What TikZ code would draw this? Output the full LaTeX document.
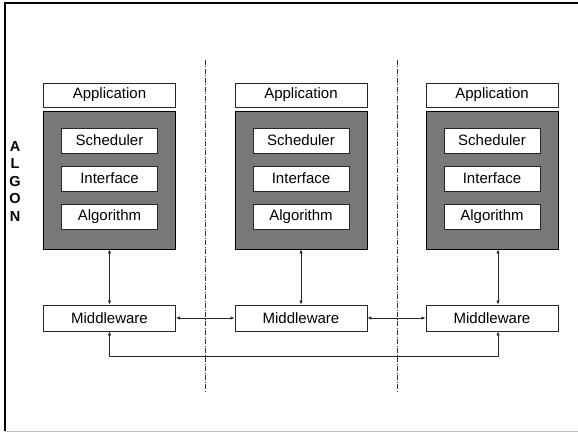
\documentclass[tikz,border=0pt]{standalone}
\usepackage{fontspec}
\setmainfont{Liberation Sans}
\usetikzlibrary{arrows.meta,calc}
\begin{document}
\begin{tikzpicture}[x=1pt,y=1pt,
  box/.style={draw=black!85,line width=0.9pt,fill=white,minimum width=132pt,minimum height=24pt,inner sep=0pt,font=\fontsize{15}{17}\selectfont},
  inbox/.style={box,minimum width=96pt,minimum height=25pt},
  graybox/.style={draw=black,line width=0.9pt,fill=black!53,minimum width=132pt,minimum height=138pt,inner sep=0pt},
  conn/.style={line width=0.6pt,draw=black!85,{Latex[length=4pt,width=3.4pt]}-{Latex[length=4pt,width=3.4pt]}},
  sep/.style={line width=0.6pt,draw=black!80,dash pattern=on 5pt off 1.5pt on 1pt off 1.5pt},
  letter/.style={font=\bfseries\fontsize{14.5}{16}\selectfont,inner sep=0pt}]
\useasboundingbox (0,0) rectangle (578,432);
% frame
\draw[line width=1.3pt] (5,1) -- (5,429) -- (578,429);
\draw[line width=1pt,black!25] (5,0.8) -- (578,0.8);
% separators
\coordinate (s1t) at (205,372); \coordinate (s1b) at (205,41);
\coordinate (s2t) at (397,372); \coordinate (s2b) at (397,41);
\draw[sep] (s1t) -- (s1b);
\draw[sep] (s2t) -- (s2b);
% ALGON
\node[letter] (lA) at (15,285.5) {A};
\node[letter] (lL) at (15,268) {L};
\node[letter] (lG) at (15,250.5) {G};
\node[letter] (lO) at (15,233) {O};
\node[letter] (lN) at (15,215.5) {N};
% columns
\foreach \i/\x in {1/109.5,2/301,3/492}{
  \node[box] (app\i) at (\x,337) {Application};
  \node[graybox] (g\i) at (\x,252) {};
  \node[inbox] (sch\i) at (\x,291.5) {Scheduler};
  \node[inbox] (int\i) at (\x,253.5) {Interface};
  \node[inbox] (alg\i) at (\x,215.5) {Algorithm};
  \node[box,minimum height=26pt] (mw\i) at (\x,114) {Middleware};
}
% vertical connectors
\draw[conn] (g1.south) -- (mw1.north);
\draw[conn] (g2.south) -- (mw2.north);
\draw[conn] ($(g3.south)+(6,0)$) -- ($(mw3.north)+(6,0)$);
% horizontal connectors
\draw[conn] (mw1.east) -- (mw2.west);
\draw[conn] (mw2.east) -- (mw3.west);
% bottom loop
\draw[conn] (mw1.south) -- ++(0,-25) -| ($(mw3.south)+(6,0)$);
\end{tikzpicture}
\end{document}
